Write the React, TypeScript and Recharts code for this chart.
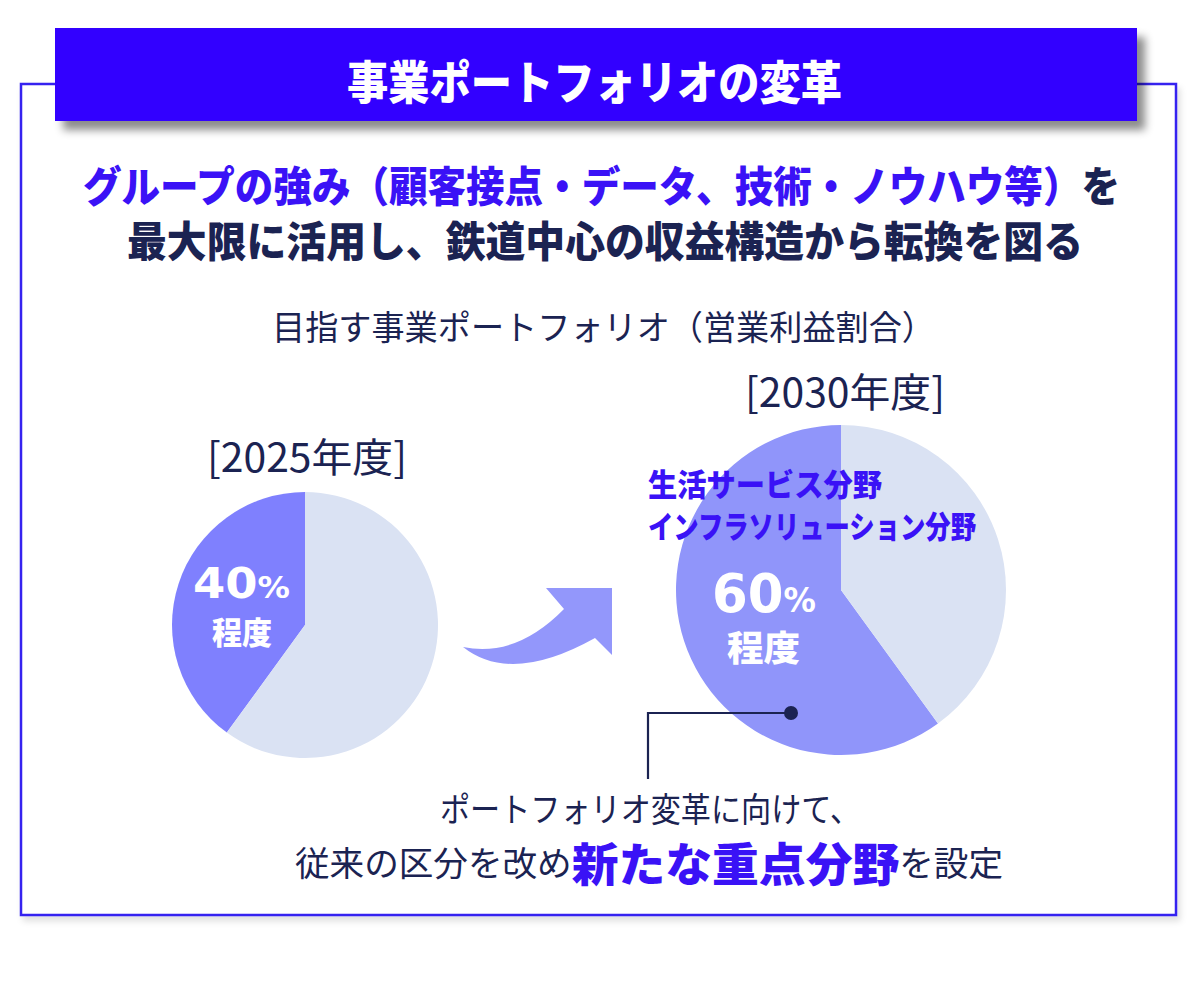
import { Cell, Pie, PieChart } from "recharts";

// 営業利益割合（重点分野 / その他）
const categories = ["重点分野", "その他"];
const share2025 = [40, 60];
const share2030 = [60, 40];
const yearLabels = ["[2025年度]", "[2030年度]"];
const focusNames = ["生活サービス分野", "インフラソリューション分野"];

const W = 1200;
const H = 981;
const NAVY = "#1b2352";
const BLUE = "#3a12f6";
const BANNER = "#3300ff";
const LIGHT = "#dae2f3";
const JP = "'Noto Sans CJK JP', 'Noto Sans', sans-serif";
const NUM = "'DejaVu Sans', sans-serif";

const data2025 = categories.map((name, i) => ({ name, value: share2025[i] }));
const data2030 = categories.map((name, i) => ({ name, value: share2030[i] }));

type TxtProps = {
  x: number;
  y: number;
  w: number;
  size: number;
  weight?: number;
  fill?: string;
  font?: string;
  baseline?: "central" | "alphabetic";
  children: React.ReactNode;
};

function Txt({ x, y, w, size, weight = 400, fill = NAVY, font = JP, baseline = "central", children }: TxtProps) {
  return (
    <text
      x={x}
      y={y}
      textLength={w}
      lengthAdjust="spacingAndGlyphs"
      dominantBaseline={baseline}
      fontFamily={font}
      fontSize={size}
      fontWeight={weight}
      fill={fill}
    >
      {children}
    </text>
  );
}

function Background() {
  return (
    <svg width={W} height={H} style={{ position: "absolute", left: 0, top: 0 }}>
      <defs>
        <filter id="shadow" x="-10%" y="-30%" width="130%" height="180%">
          <feDropShadow dx="8" dy="9" stdDeviation="4" floodColor="#000" floodOpacity="0.45" />
        </filter>
        <filter id="soft" x="-5%" y="-5%" width="110%" height="110%">
          <feDropShadow dx="3" dy="5" stdDeviation="3" floodColor="#000" floodOpacity="0.12" />
        </filter>
      </defs>
      <rect x={0} y={0} width={W} height={H} fill="#ffffff" />
      <rect x={21} y={84} width={1155} height={831} fill="#ffffff" stroke="#3522f0" strokeWidth={2.5} filter="url(#soft)" />
      <rect x={55} y={28} width={1082} height={93} fill={BANNER} filter="url(#shadow)" />
      <Txt x={347} y={79} w={495} size={46} weight={900} fill="#ffffff">
        事業ポートフォリオの変革
      </Txt>

      <Txt x={83} y={183} w={1037} size={42} weight={900} fill={BLUE}>
        グループの強み（顧客接点・データ、技術・ノウハウ等）
        <tspan fill={NAVY}>を</tspan>
      </Txt>
      <Txt x={127} y={238} w={956} size={42} weight={900}>
        最大限に活用し、鉄道中心の収益構造から転換を図る
      </Txt>

      <Txt x={272} y={325} w={663} size={34}>
        目指す事業ポートフォリオ（営業利益割合）
      </Txt>
      <Txt x={207} y={455} w={200} size={40}>
        {yearLabels[0]}
      </Txt>
      <Txt x={745} y={390} w={200} size={40}>
        {yearLabels[1]}
      </Txt>

      {/* arrow between the two pies */}
      <path
        d="M 463 647 Q 516 658 564 609 L 546 588 L 612 588 L 612 655 L 595 638 Q 511 685 463 647 Z"
        fill="#9397fb"
      />

      <Txt x={440} y={807} w={420} size={34}>
        ポートフォリオ変革に向けて、
      </Txt>
      <Txt x={295} y={861} w={708} size={34}>
        従来の区分を改め
        <tspan fontSize={46} fontWeight={900} fill={BLUE}>
          新たな重点分野
        </tspan>
        を設定
      </Txt>
    </svg>
  );
}

function Overlay() {
  return (
    <svg width={W} height={H} style={{ position: "absolute", left: 0, top: 0, pointerEvents: "none" }}>
      {/* 2025 label */}
      <Txt x={193} y={598} w={97} size={43} weight={700} fill="#ffffff" font={NUM} baseline="alphabetic">
        {String(share2025[0])}
        <tspan fontSize={30}>%</tspan>
      </Txt>
      <Txt x={212} y={630} w={60} size={31} weight={900} fill="#ffffff">
        程度
      </Txt>

      {/* 2030 labels */}
      <Txt x={648} y={482} w={234} size={31} weight={900} fill={BLUE}>
        {focusNames[0]}
      </Txt>
      <Txt x={648} y={524} w={328} size={31} weight={900} fill={BLUE}>
        {focusNames[1]}
      </Txt>
      <Txt x={712} y={612} w={104} size={54} weight={700} fill="#ffffff" font={NUM} baseline="alphabetic">
        {String(share2030[0])}
        <tspan fontSize={34}>%</tspan>
      </Txt>
      <Txt x={727} y={645} w={73} size={35} weight={900} fill="#ffffff">
        程度
      </Txt>

      {/* callout */}
      <polyline points="791,713 648,713 648,779" fill="none" stroke={NAVY} strokeWidth={2.2} />
      <circle cx={791} cy={713} r={7} fill={NAVY} />
    </svg>
  );
}

export default function App() {
  return (
    <div style={{ position: "absolute", left: 0, top: 0, width: W, height: H, background: "#fff" }}>
      <Background />
      <div style={{ position: "absolute", left: 0, top: 0 }}>
        <PieChart width={W} height={H} margin={{ top: 0, right: 0, bottom: 0, left: 0 }}>
          <Pie
            data={data2025}
            dataKey="value"
            nameKey="name"
            cx={305}
            cy={625}
            outerRadius={133}
            startAngle={90}
            endAngle={450}
            stroke="none"
            isAnimationActive={false}
          >
            <Cell fill="#7f80fe" />
            <Cell fill={LIGHT} />
          </Pie>
          <Pie
            data={data2030}
            dataKey="value"
            nameKey="name"
            cx={841}
            cy={590}
            outerRadius={165}
            startAngle={90}
            endAngle={450}
            stroke="none"
            isAnimationActive={false}
          >
            <Cell fill="#9095fa" />
            <Cell fill={LIGHT} />
          </Pie>
        </PieChart>
      </div>
      <Overlay />
    </div>
  );
}
